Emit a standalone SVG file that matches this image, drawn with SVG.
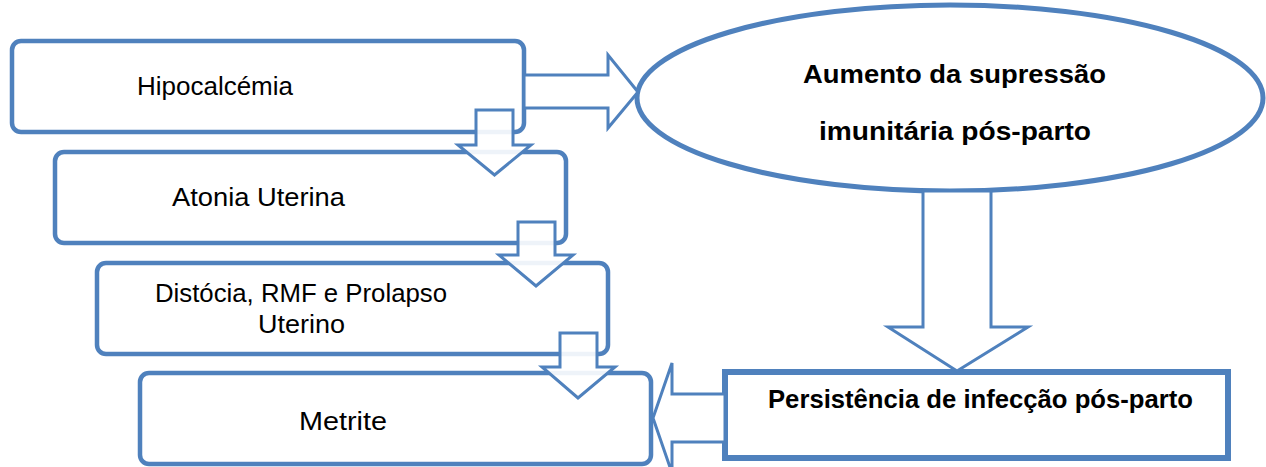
<svg xmlns="http://www.w3.org/2000/svg" width="1266" height="467" viewBox="0 0 1266 467">
<style>
.box{fill:#fff;stroke:#4f81bd;stroke-width:4.5}
.ell{fill:#fff;stroke:#4f81bd;stroke-width:5}
.rect{fill:#fff;stroke:#4f81bd;stroke-width:6}
.arr{fill:#fff;fill-opacity:0.9;stroke:#4f81bd;stroke-width:3;stroke-linejoin:miter}
.t{font-family:"Liberation Sans",Arial,sans-serif;font-size:25px;fill:#000}
.b{font-family:"Liberation Sans",Arial,sans-serif;font-size:26px;font-weight:bold;fill:#000}
</style>
<rect width="1266" height="467" fill="#fff"/>
<g id="nodes">
<g id="n-hipocalcemia">
<rect class="box" x="12" y="41" width="512" height="91" rx="9"/>
<text class="t" x="137" y="95" textLength="156" lengthAdjust="spacingAndGlyphs">Hipocalcémia</text>
</g>
<g id="n-atonia">
<rect class="box" x="55" y="152" width="511" height="91" rx="9"/>
<text class="t" x="172" y="206" textLength="173" lengthAdjust="spacingAndGlyphs">Atonia Uterina</text>
</g>
<g id="n-distocia">
<rect class="box" x="97" y="263" width="511" height="91" rx="9"/>
<text class="t" x="155" y="302" textLength="292" lengthAdjust="spacingAndGlyphs">Distócia, RMF e Prolapso</text>
<text class="t" x="258" y="333" textLength="87" lengthAdjust="spacingAndGlyphs">Uterino</text>
</g>
<g id="n-metrite">
<rect class="box" x="140" y="373" width="511" height="91" rx="9"/>
<text class="t" x="299" y="430" textLength="88" lengthAdjust="spacingAndGlyphs">Metrite</text>
</g>
<g id="n-aumento">
<ellipse class="ell" cx="950" cy="98" rx="313" ry="93"/>
<text class="b" x="803" y="83" textLength="303" lengthAdjust="spacingAndGlyphs">Aumento da supressão</text>
<text class="b" x="819" y="140" textLength="272" lengthAdjust="spacingAndGlyphs">imunitária pós-parto</text>
</g>
<g id="n-persistencia">
<rect class="rect" x="725" y="372" width="503" height="86"/>
<text class="b" x="768" y="408" textLength="425" lengthAdjust="spacingAndGlyphs" style="font-size:25px">Persistência de infecção pós-parto</text>
</g>
</g>
<g id="connectors">
<polygon class="arr" points="476,110 513,110 513,145 531,145 494.5,175 458,145 476,145"/>
<polygon class="arr" points="518,222 555,222 555,255 573,255 536,286 499,255 518,255"/>
<polygon class="arr" points="560,333 597,333 597,367 615,367 578,398 542,367 560,367"/>
<polygon class="arr" points="524,75 608,75 608,55 638,92 608,128 608,108 524,108"/>
<polygon class="arr" style="fill-opacity:1" points="923,191 991,191 991,327 1028,327 957,371 888,327 923,327"/>
<polygon class="arr" style="fill-opacity:1" points="725,394 672,394 672,363 653,418 672,473 672,442 725,442"/>
</g>
</svg>
